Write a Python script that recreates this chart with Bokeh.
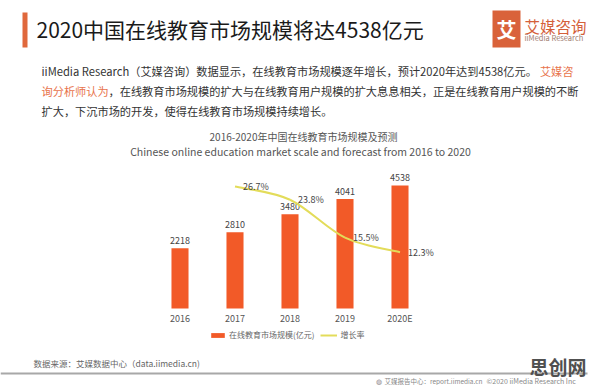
from bokeh.plotting import figure
from bokeh.models import Range1d, Label, BoxAnnotation, Legend, LegendItem
from bokeh.embed import file_html
from bokeh.resources import INLINE
from bokeh.core.properties import value

# ---------------- data ----------------
years = ["2016", "2017", "2018", "2019", "2020E"]
market_size = [2218, 2810, 3480, 4041, 4538]          # 亿元
rate_years = ["2017", "2018", "2019", "2020E"]
growth_rate = [26.7, 23.8, 15.5, 12.3]                 # %
size_labels = [str(v) for v in market_size]
rate_labels = [f"{v}%" for v in growth_rate]

TITLE = "2020中国在线教育市场规模将达4538亿元"
CHART_TITLE = "2016-2020年中国在线教育市场规模及预测"
CHART_SUB = "Chinese online education market scale and forecast from 2016 to 2020"
LEGEND_BAR = "在线教育市场规模(亿元)"
LEGEND_LINE = "增长率"

FONT = "Noto Sans CJK SC"
BAR_COLOR = "#f25a28"
LINE_COLOR = "#e3dc5a"
ORANGE = "#d9623a"

# ---------------- layout (page pixels) ----------------
W, H = 596, 385
PL, PR, PT, PB = 152, 427, 170, 308      # plot-area edges of the bar chart
Y_MAX, RATE_MAX = 5090, 30.2              # values at the plot-area top

# main ranges: page pixels, y downwards
p = figure(width=W, height=H, output_backend="svg", toolbar_location=None,
           x_range=Range1d(0, W), y_range=Range1d(H, 0), min_border=0)
ncat = len(years)
ux = ncat / (PR - PL)                     # category units per pixel
uy = Y_MAX / (PB - PT)
ur = RATE_MAX / (PB - PT)
p.extra_x_ranges = {"cat": Range1d(-PL * ux, (W - PL) * ux)}
p.extra_y_ranges = {"val": Range1d(-(H - PB) * uy, PB * uy),
                    "rate": Range1d(-(H - PB) * ur, PB * ur)}
p.axis.visible = False
p.xgrid.visible = False
p.ygrid.visible = False
p.outline_line_color = None
p.background_fill_color = "white"
p.border_fill_color = "white"

xs = [i + 0.5 for i in range(ncat)]
xpos = {y: x for y, x in zip(years, xs)}
rx = [xpos[y] for y in rate_years]

# bars
bars = p.vbar(x=xs, top=market_size, bottom=0, width=0.31, fill_color=BAR_COLOR,
              line_color=None, x_range_name="cat", y_range_name="val")
p.text(x=xs, y=market_size, text=size_labels, text_align="center", text_baseline="bottom",
       y_offset=-4, x_range_name="cat", y_range_name="val",
       text_font=value(FONT), text_font_size="9px", text_color="#444444")
# category labels (x axis)
p.text(x=xs, y=[318] * ncat, text=years, text_align="center", text_baseline="middle",
       x_range_name="cat", text_font=value(FONT), text_font_size="9px", text_color="#555555")

# smooth growth-rate line (Catmull-Rom drawn as bezier segments)
n = len(rx)
x0, y0, x1, y1, cx0, cy0, cx1, cy1 = [], [], [], [], [], [], [], []
for i in range(n - 1):
    ip, inx = max(i - 1, 0), min(i + 2, n - 1)
    x0.append(rx[i]); y0.append(growth_rate[i])
    x1.append(rx[i + 1]); y1.append(growth_rate[i + 1])
    cx0.append(rx[i] + (rx[i + 1] - rx[ip]) / 6)
    cy0.append(growth_rate[i] + (growth_rate[i + 1] - growth_rate[ip]) / 6)
    cx1.append(rx[i + 1] - (rx[inx] - rx[i]) / 6)
    cy1.append(growth_rate[i + 1] - (growth_rate[inx] - growth_rate[i]) / 6)
curve = p.bezier(x0=x0, y0=y0, x1=x1, y1=y1, cx0=cx0, cy0=cy0, cx1=cx1, cy1=cy1,
                 line_color=LINE_COLOR, line_width=2, x_range_name="cat", y_range_name="rate")
p.text(x=rx, y=growth_rate, text=rate_labels, text_baseline="middle", x_offset=8,
       x_range_name="cat", y_range_name="rate",
       text_font=value(FONT), text_font_size="9px", text_color="#444444")

legend = Legend(items=[LegendItem(label=LEGEND_BAR, renderers=[bars]),
                       LegendItem(label=LEGEND_LINE, renderers=[curve])],
                orientation="horizontal", location=(209, H - 340),
                background_fill_alpha=0, border_line_color=None, padding=0, margin=0,
                spacing=6, label_standoff=3, glyph_width=17, glyph_height=6,
                label_height=10, label_text_font=FONT, label_text_font_size="8px",
                label_text_color="#666666")
p.add_layout(legend)

# ---------------- page texts ----------------
def lab(X, Y, text, size, color, align="left", style="normal", **kw):
    p.add_layout(Label(x=X, y=Y, text=text, text_align=align, text_baseline="middle",
                       text_font=FONT, text_font_size=size, text_color=color,
                       text_font_style=style, **kw))

def box(left, right, top, bottom, color):
    p.add_layout(BoxAnnotation(left=left, right=right, top=top, bottom=bottom,
                               fill_color=color, fill_alpha=1, line_color=None))

# accent bar and title
box(22, 27, 12, 47, "#e0683c")
lab(36, 28, TITLE, "21px", "#1a1a1a")

# logo
lab(506, 28.5, "艾", "20px", "white", align="center", style="bold",
    background_fill_color=ORANGE, padding=4)
lab(524, 25, "艾媒咨询", "15.5px", "#d4603a")
lab(524, 37, "iiMedia Research", "7.5px", "#a07c70")

# paragraph
PF = "11.2px"
lab(41, 70, "iiMedia Research（艾媒咨询）数据显示，在线教育市场规模逐年增长，预计2020年达到4538亿元。",
    PF, "#333333")
lab(573, 70, "艾媒咨", PF, "#e8744c", align="right")
lab(41, 90, "询分析师认为", PF, "#e8744c")
lab(108, 90, "，在线教育市场规模的扩大与在线教育用户规模的扩大息息相关，正是在线教育用户规模的不断",
    PF, "#333333")
lab(41, 110, "扩大，下沉市场的开发，使得在线教育市场规模持续增长。", PF, "#333333")

# chart titles
lab(303, 136, CHART_TITLE, "10px", "#555555", align="center")
lab(300, 151, CHART_SUB, "10.5px", "#555555", align="center")

# source, footer
lab(33, 362, "数据来源：艾媒数据中心（data.iimedia.cn)", "8.5px", "#666666")
box(0, 587, 372, 374, "#a8a8a8")
lab(375, 380, "◍", "7px", "#888888")
lab(384, 380, "艾媒报告中心：report.iimedia.cn", "6.5px", "#888888")
lab(486, 380, "©2020  iiMedia Research Inc", "7px", "#888888")
lab(529, 366, "思创网", "19px", "#505050", style="bold")

open("out.html", "w").write(file_html(p, INLINE))
